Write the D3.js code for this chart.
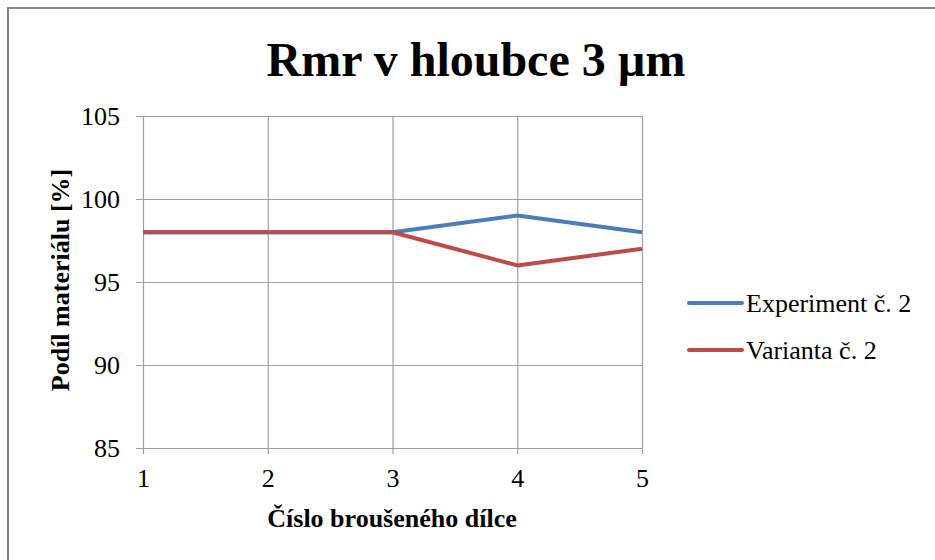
<!DOCTYPE html>
<html>
<head>
<meta charset="utf-8">
<script src="https://cdn.jsdelivr.net/npm/d3@7/dist/d3.min.js"></script>
<style>
  html, body { margin: 0; padding: 0; background: #fff; }
  svg { display: block; }
  text { font-family: "Liberation Serif", "Times New Roman", serif; fill: #000; }
</style>
</head>
<body>
<svg id="chart" width="935" height="560"></svg>
<script>
// Rmr values measured on each ground part
const parts = [1, 2, 3, 4, 5];
const experimentValues = [98, 98, 98, 99, 98];
const variantValues = [98, 98, 98, 96, 97];
const yTicks = [85, 90, 95, 100, 105];
const seriesNames = ["Experiment č. 2", "Varianta č. 2"];
const seriesColors = ["#4a7ebb", "#be4b48"];

const svg = d3.select("#chart");

// Outer chart frame
svg.append("rect")
  .attr("x", 8).attr("y", 8)
  .attr("width", 940).attr("height", 570)
  .attr("fill", "none")
  .attr("stroke", "#868686")
  .attr("stroke-width", 2);

const plot = { left: 143, right: 642, top: 116, bottom: 448 };

const x = d3.scaleLinear().domain([1, 5]).range([plot.left, plot.right]);
const y = d3.scaleLinear().domain([85, 105]).range([plot.bottom, plot.top]);

const tickFont = "Liberation Serif, Times New Roman, serif";

// Horizontal gridlines with left tick marks
const yAxis = svg.append("g")
  .attr("transform", `translate(${plot.left},0)`)
  .call(d3.axisLeft(y).tickValues(yTicks)
    .tickSize(-(plot.right - plot.left)).tickPadding(23).tickFormat(d3.format("d")));
yAxis.attr("font-family", tickFont).attr("font-size", 26);
yAxis.select(".domain").remove();
yAxis.selectAll(".tick line")
  .attr("stroke", "#a0a0a0").attr("stroke-width", 1.2)
  .attr("x1", -7);
yAxis.selectAll(".tick text").attr("fill", "#000");

// Vertical gridlines with bottom tick marks
const xAxis = svg.append("g")
  .attr("transform", `translate(0,${plot.bottom})`)
  .call(d3.axisBottom(x).tickValues(parts)
    .tickSize(-(plot.bottom - plot.top)).tickPadding(21).tickFormat(d3.format("d")));
xAxis.attr("font-family", tickFont).attr("font-size", 26);
xAxis.select(".domain").remove();
xAxis.selectAll(".tick line")
  .attr("stroke", "#a0a0a0").attr("stroke-width", 1.2)
  .attr("y1", 6);
xAxis.selectAll(".tick text").attr("fill", "#000");

// Series lines
const line = d3.line()
  .x((d, i) => x(parts[i]))
  .y(d => y(d));

[experimentValues, variantValues].forEach((vals, i) => {
  svg.append("path")
    .datum(vals)
    .attr("fill", "none")
    .attr("stroke", seriesColors[i])
    .attr("stroke-width", 4)
    .attr("stroke-linejoin", "round")
    .attr("d", line);
});

// Title
svg.append("text")
  .attr("x", 476).attr("y", 76)
  .attr("text-anchor", "middle")
  .style("font-size", "48px")
  .style("font-weight", "bold")
  .text("Rmr v hloubce 3 µm");

// Axis titles
svg.append("text")
  .attr("x", 392).attr("y", 527)
  .attr("text-anchor", "middle")
  .style("font-size", "26px")
  .style("font-weight", "bold")
  .text("Číslo broušeného dílce");

svg.append("text")
  .attr("transform", `translate(69,${(plot.top + plot.bottom) / 2 - 2}) rotate(-90)`)
  .attr("text-anchor", "middle")
  .style("font-size", "26px")
  .style("font-weight", "bold")
  .text("Podíl materiálu [%]");

// Legend
const legend = svg.append("g");
seriesNames.forEach((name, i) => {
  const ly = 303 + i * 47;
  legend.append("line")
    .attr("x1", 689).attr("x2", 742)
    .attr("y1", ly).attr("y2", ly)
    .attr("stroke", seriesColors[i])
    .attr("stroke-width", 4)
    .attr("stroke-linecap", "round");
  legend.append("text")
    .attr("x", 746).attr("y", ly + 9)
    .style("font-size", "26px")
    .text(name);
});
</script>
</body>
</html>
